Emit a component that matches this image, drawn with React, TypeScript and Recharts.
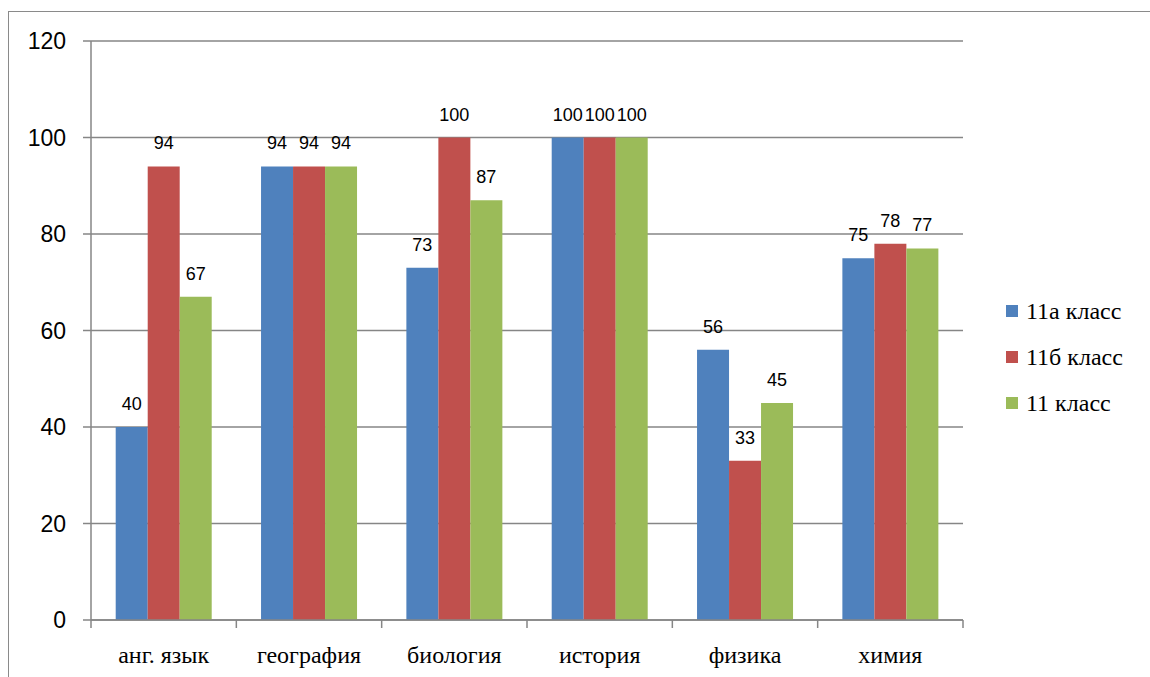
import React from "react";
import { BarChart, Bar, XAxis, YAxis, CartesianGrid, LabelList } from "recharts";

const categories = ["анг. язык", "география", "биология", "история", "физика", "химия"];
const class11a = [40, 94, 73, 100, 56, 75];
const class11b = [94, 94, 100, 100, 33, 78];
const class11 = [67, 94, 87, 100, 45, 77];
const yTicks = [0, 20, 40, 60, 80, 100, 120];

const series = [
  { key: "a", name: "11а класс", color: "#4F81BD" },
  { key: "b", name: "11б класс", color: "#C0504D" },
  { key: "c", name: "11 класс", color: "#9BBB59" },
];

const data = categories.map((cat, i) => ({
  cat,
  a: class11a[i],
  b: class11b[i],
  c: class11[i],
}));

const GRID = "#868686";
// no serif face in the sandbox, so the serif texts fall back to a sans one
const SERIF = "Liberation Serif, DejaVu Serif, serif";
const SANS = "Liberation Sans, Arial, sans-serif";

function CategoryTick(props: any) {
  const { x, y, payload, index } = props;
  const half = payload && payload.offset ? payload.offset : 72.7;
  return (
    <g>
      <line x1={x - half} y1={y} x2={x - half} y2={y + 8} stroke={GRID} strokeWidth={1.5} />
      {index === categories.length - 1 && (
        <line x1={x + half} y1={y} x2={x + half} y2={y + 8} stroke={GRID} strokeWidth={1.5} />
      )}
      <text x={x} y={y + 43} textAnchor="middle" style={{ fontFamily: SERIF, fontSize: 24 }} fill="#000">
        {payload.value}
      </text>
    </g>
  );
}

export default function App() {
  return (
    <div style={{ position: "absolute", left: 0, top: 0, width: 1150, height: 677, background: "#fff" }}>
      <div
        style={{
          position: "absolute",
          left: 8,
          top: 11,
          width: 1160,
          height: 700,
          borderLeft: "1.5px solid #8a8a8a",
          borderTop: "1.5px solid #8a8a8a",
        }}
      />
      <BarChart
        width={1150}
        height={677}
        data={data}
        margin={{ top: 41, right: 187, left: 0, bottom: 0 }}
        barCategoryGap="17%"
        barGap={0}
        style={{ position: "absolute", left: 0, top: 0 }}
      >
        <CartesianGrid vertical={false} stroke={GRID} strokeWidth={1.5} />
        <XAxis
          dataKey="cat"
          height={57}
          axisLine={{ stroke: GRID, strokeWidth: 1.5 }}
          tickLine={false}
          tickSize={0}
          tickMargin={0}
          tick={<CategoryTick />}
          interval={0}
        />
        <YAxis
          width={91}
          domain={[0, 120]}
          ticks={yTicks}
          interval={0}
          axisLine={{ stroke: GRID, strokeWidth: 1.5 }}
          tickLine={{ stroke: GRID, strokeWidth: 1.5 }}
          tickSize={8}
          tickMargin={17}
          tick={{ fill: "#000", fontSize: 23, fontFamily: SANS }}
        />
        {series.map((s) => (
          <Bar key={s.key} dataKey={s.key} name={s.name} fill={s.color} isAnimationActive={false}>
            <LabelList
              dataKey={s.key}
              position="top"
              offset={17}
              fill="#000"
              fontSize={18}
              fontFamily={SANS}
            />
          </Bar>
        ))}
      </BarChart>
      <div style={{ position: "absolute", left: 1006, top: 288 }}>
        {series.map((s) => (
          <div
            key={s.key}
            style={{ display: "flex", alignItems: "center", height: 46, fontFamily: SERIF, fontSize: 24, color: "#000" }}
          >
            <span style={{ display: "inline-block", width: 12, height: 12, background: s.color, marginRight: 8 }} />
            {s.name}
          </div>
        ))}
      </div>
    </div>
  );
}
